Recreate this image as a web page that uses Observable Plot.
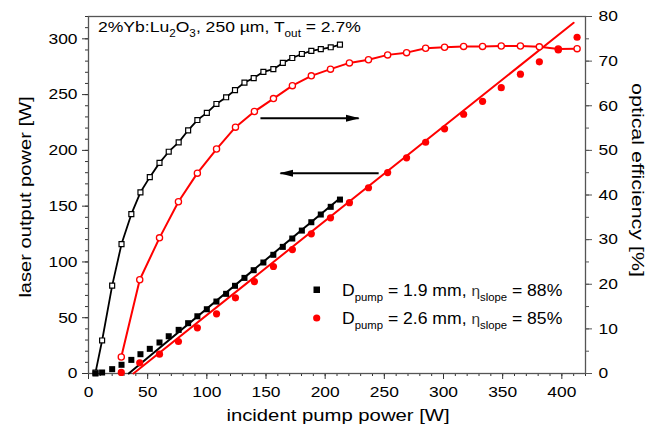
<!DOCTYPE html>
<html><head><meta charset="utf-8">
<script src="https://cdn.jsdelivr.net/npm/d3@7"></script>
<script src="https://cdn.jsdelivr.net/npm/@observablehq/plot@0.6"></script>
<style>
body{margin:0;background:#fff;}
#chart svg{font-family:"Liberation Sans",Arial,Helvetica,sans-serif;}
</style></head><body><div id="chart"></div>
<script>
// ---- data ----
// D_pump = 1.9 mm (black)
const pumpBlack = [5.9,11.5,20,27.9,36.2,43.9,51.8,60,67.8,76.2,84.2,92,100,108.1,116.3,123.8,131.8,139.6,147.8,156.2,164.2,172.2,180.3,188.3,196.3,204.7,212.5];
const outBlack  = [0,0.9,3.9,7.8,12.2,17.3,22.1,27.8,33.4,39.1,45.1,51.3,57.6,64.5,71.4,78.6,85.7,92.6,99.5,106.4,113.5,121,128.1,135.6,142.5,149.4,155.9];
const effBlack  = [0.2,7.4,19.7,29.0,35.7,40.6,44.0,47.2,49.7,51.8,54.5,56.8,58.4,60.4,61.9,63.5,65.2,66.2,67.6,68.2,69.6,70.7,71.6,72.3,72.7,73.1,73.7];
// D_pump = 2.6 mm (red)
const pumpRed = [27.7,43.3,60,76,92,108.2,124.2,140.2,156.3,172.3,188.3,204.5,220.5,236.6,252.8,268.8,284.9,300.9,317,333,348.8,365,381,397,412.9];
const outRed  = [1.0,9.6,17.3,28.7,40.9,53.5,67.8,82.4,95.9,111.1,125.2,139.5,153.1,166.5,180.1,193.3,207.3,219.3,232.4,244,256.2,268.3,279.4,290,301.4];
const effRed  = [3.7,21.0,30.4,38.5,44.9,50.3,55.2,58.7,61.6,64.5,66.7,68.2,69.6,70.3,71.4,71.9,72.9,73.1,73.3,73.3,73.4,73.4,73.2,72.7,72.8];
// linear fits: threshold [W], slope, fitted range end [W]
const fitBlackParams = {threshold:34, slope:0.88, end:212};
const fitRedParams   = {threshold:38, slope:0.845, end:410};
// annotation arrows (W units): from -> to
const arrowFrom = [[145.3,228.8],[245.2,179.5]];
const arrowTo   = [[228.3,228.8],[162.2,179.5]];
// axes
const xTicks = [0,50,100,150,200,250,300,350,400];
const yTicks = [0,50,100,150,200,250,300];
const effTicks = [0,10,20,30,40,50,60,70,80];
const EFF = 4; // 80 % on right axis == 320 W on left axis

// ---- build tables ----
const blackOut = pumpBlack.map((x,i)=>({x, y: outBlack[i]}));
const blackEff = pumpBlack.map((x,i)=>({x, y: effBlack[i]*EFF}));
const redOut = pumpRed.map((x,i)=>({x, y: outRed[i]}));
const redEff = pumpRed.map((x,i)=>({x, y: effRed[i]*EFF}));
const fitLine = p => [p.threshold, p.end].map(x=>({x, y: p.slope*(x-p.threshold)}));
const arrows = arrowFrom.map((a,i)=>({x1:a[0], y1:a[1], x2:arrowTo[i][0], y2:arrowTo[i][1]}));

function headMarker(color){
  const m = d3.create("svg:marker")
    .attr("viewBox","0 -5 14 10").attr("markerWidth",14).attr("markerHeight",10)
    .attr("markerUnits","userSpaceOnUse").attr("orient","auto").attr("refX",13).attr("refY",0);
  m.append("path").attr("d","M0,-3.6L14,0L0,3.6Z").attr("fill",color).attr("stroke","none");
  return m.node();
}

const plot = Plot.plot({
  width:659, height:437,
  marginLeft:88, marginRight:74, marginTop:16, marginBottom:64,
  x:{domain:[0,420], label:null},
  y:{domain:[0,320], label:null},
  style:{fontFamily:'"Liberation Sans",Arial,sans-serif', fontSize:"15px", color:"#000", background:"#fff", overflow:"visible"},
  marks:[
    Plot.axisX(d3.range(0,421,10), {tickSize:3, tickFormat:()=>"", label:null, stroke:"#333"}),
    Plot.axisX(xTicks, {tickSize:6, tickPadding:7, label:null, stroke:"#333", fontSize:15}),
    Plot.axisY(d3.range(0,321,10), {tickSize:3, tickFormat:()=>"", label:null, stroke:"#333"}),
    Plot.axisY(yTicks, {tickSize:6, tickPadding:5, label:null, stroke:"#333", fontSize:15}),
    Plot.axisY(d3.range(0,321,20), {anchor:"right", tickSize:3, tickFormat:()=>"", label:null, stroke:"#555"}),
    Plot.axisY(effTicks.map(v=>v*EFF), {anchor:"right", tickSize:6, tickPadding:7, tickFormat:d=>d/EFF, label:null, stroke:"#555", fontSize:15}),
    Plot.frame({stroke:"#555", strokeWidth:1.3}),
    Plot.line(blackEff, {x:"x", y:"y", stroke:"#000", strokeWidth:1.8}),
    Plot.line(redEff, {x:"x", y:"y", stroke:"#ff0000", strokeWidth:2}),
    Plot.line(fitLine(fitBlackParams), {x:"x", y:"y", stroke:"#000", strokeWidth:2}),
    Plot.line(fitLine(fitRedParams), {x:"x", y:"y", stroke:"#ff0000", strokeWidth:2}),
    Plot.dot(blackEff, {x:"x", y:"y", symbol:"square", r:2.8, stroke:"#000", fill:"#fff", strokeWidth:1.2}),
    Plot.dot(redEff, {x:"x", y:"y", r:3.1, stroke:"#ff0000", fill:"#fff", strokeWidth:1.3}),
    Plot.dot(blackOut, {x:"x", y:"y", symbol:"square", r:3.4, fill:"#000"}),
    Plot.dot(redOut, {x:"x", y:"y", r:3.6, fill:"#ff0000"}),
    Plot.link(arrows, {x1:"x1", y1:"y1", x2:"x2", y2:"y2", stroke:"#000", strokeWidth:2, markerEnd:headMarker})
  ]
});
document.getElementById("chart").appendChild(plot);

const svg = d3.select(plot);
// widen the axis tick labels horizontally (reference font is wider than Arial)
svg.selectAll("text").each(function(){
  const t = this.getAttribute("transform") || "";
  this.setAttribute("transform", (t + " scale(1.16,1)").trim());
});

const FF = '"Liberation Sans",Arial,sans-serif';
function rich(g, parts, x, y, size, sx, subSize){
  const t = g.append("text").attr("x",0).attr("y",0)
    .attr("transform",`translate(${x},${y}) scale(${sx},1)`)
    .attr("text-anchor","start").attr("font-size",size).attr("font-family",FF).attr("fill","#000");
  let shift = 0;
  for (const p of parts){
    const s = t.append("tspan").text(p.t);
    const target = p.sub ? 5 : 0;
    if (target !== shift){ s.attr("dy", target - shift); shift = target; }
    if (p.sub) s.attr("font-size", subSize);
    if (p.size) s.attr("font-size", p.size);
    if (p.fill) s.attr("fill", p.fill);
  }
  return t;
}
// title
rich(svg, [{t:"2%Yb:Lu"},{t:"2",sub:1},{t:"O"},{t:"3",sub:1},{t:", 250 µm, T"},{t:"out",sub:1},{t:" = 2.7%"}], 98, 32, 15, 1.17, 10);
// legend
svg.append("rect").attr("x",313.5).attr("y",286.5).attr("width",6.5).attr("height",6.5).attr("fill","#000");
svg.append("circle").attr("cx",316.7).attr("cy",318).attr("r",3.6).attr("fill","#ff0000");
rich(svg, [{t:"D"},{t:"pump",sub:1},{t:" = 1.9 mm, "},{t:"η",size:14,fill:"#333"},{t:"slope",sub:1},{t:" = 88%"}], 342, 296, 16, 1.1, 10.3);
rich(svg, [{t:"D"},{t:"pump",sub:1},{t:" = 2.6 mm, "},{t:"η",size:14,fill:"#333"},{t:"slope",sub:1},{t:" = 85%"}], 342, 324, 16, 1.1, 10.3);
// axis titles
const lab = (tr, txt) => svg.append("text").attr("transform",tr).attr("text-anchor","middle").attr("font-size",16.5).attr("font-family",FF).attr("fill","#000").text(txt);
lab("translate(31,197) rotate(-90) scale(1.22,1)", "laser output power [W]");
lab("translate(632,180) rotate(90) scale(1.3,1)", "optical efficiency [%]");
lab("translate(338,421) scale(1.23,1)", "incident pump power [W]");
</script></body></html>
